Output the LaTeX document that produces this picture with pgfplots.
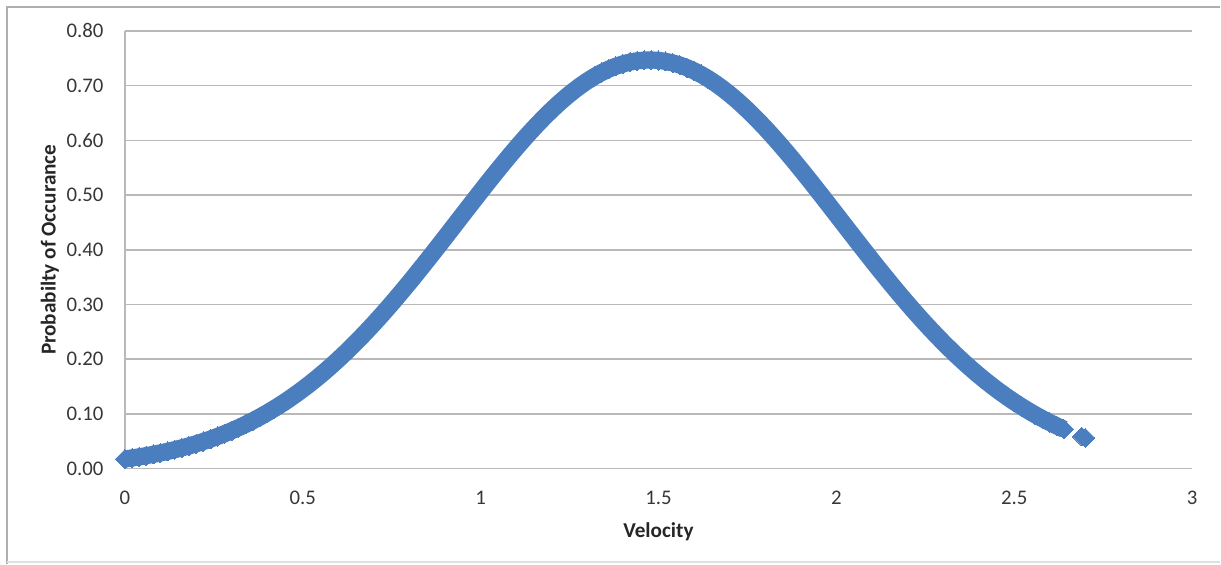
\documentclass[border=0pt]{standalone}
\usepackage{pgfplots}
\pgfplotsset{compat=1.18}
\usepackage{pgfplotstable}
\usepackage{fontspec}
\setmainfont{Carlito}
\definecolor{markblue}{RGB}{74,126,190}
\definecolor{gridgray}{RGB}{185,185,185}
\definecolor{framegray}{RGB}{175,175,175}
\definecolor{ticktext}{RGB}{55,55,55}

\pgfplotstableread{
x y
0.00 0.01755
0.02 0.01942
0.04 0.02145
0.06 0.02366
0.08 0.02607
0.10 0.02868
0.12 0.03152
0.14 0.03458
0.16 0.03789
0.18 0.04146
0.20 0.04530
0.22 0.04943
0.24 0.05386
0.26 0.05861
0.28 0.06369
0.30 0.06911
0.32 0.07489
0.34 0.08104
0.36 0.08758
0.38 0.09452
0.40 0.10186
0.42 0.10962
0.44 0.11782
0.46 0.12645
0.48 0.13552
0.50 0.14505
0.52 0.15503
0.54 0.16547
0.56 0.17637
0.58 0.18773
0.60 0.19954
0.62 0.21181
0.64 0.22452
0.66 0.23766
0.68 0.25123
0.70 0.26520
0.72 0.27957
0.74 0.29431
0.76 0.30940
0.78 0.32482
0.80 0.34053
0.82 0.35651
0.84 0.37273
0.86 0.38915
0.88 0.40572
0.90 0.42243
0.92 0.43921
0.94 0.45604
0.96 0.47285
0.98 0.48961
1.00 0.50626
1.02 0.52276
1.04 0.53905
1.06 0.55509
1.08 0.57081
1.10 0.58617
1.12 0.60112
1.14 0.61559
1.16 0.62954
1.18 0.64292
1.20 0.65568
1.22 0.66778
1.24 0.67915
1.26 0.68978
1.28 0.69960
1.30 0.70858
1.32 0.71669
1.34 0.72390
1.36 0.73016
1.38 0.73547
1.40 0.73979
1.42 0.74311
1.44 0.74543
1.46 0.74671
1.48 0.74697
1.50 0.74620
1.52 0.74440
1.54 0.74158
1.56 0.73775
1.58 0.73293
1.60 0.72715
1.62 0.72041
1.64 0.71275
1.66 0.70420
1.68 0.69479
1.70 0.68456
1.72 0.67356
1.74 0.66182
1.76 0.64938
1.78 0.63630
1.80 0.62263
1.82 0.60841
1.84 0.59370
1.86 0.57854
1.88 0.56299
1.90 0.54711
1.92 0.53094
1.94 0.51454
1.96 0.49795
1.98 0.48124
2.00 0.46445
2.02 0.44762
2.04 0.43081
2.06 0.41407
2.08 0.39742
2.10 0.38091
2.12 0.36459
2.14 0.34849
2.16 0.33264
2.18 0.31707
2.20 0.30182
2.22 0.28690
2.24 0.27234
2.26 0.25817
2.28 0.24439
2.30 0.23104
2.32 0.21811
2.34 0.20562
2.36 0.19358
2.38 0.18199
2.40 0.17086
2.42 0.16019
2.44 0.14998
2.46 0.14023
2.48 0.13093
2.50 0.12208
2.52 0.11367
2.54 0.10569
2.56 0.09814
2.58 0.09100
2.60 0.08426
2.62 0.07792
2.64 0.07195
}\maindata

\pgfplotstableread{
x y
2.69 0.05861
2.70 0.05619
}\taildata

\begin{document}
\begin{tikzpicture}
\path (0,0) rectangle (610.5pt,282pt);
\draw[framegray, line width=0.8pt] (3.5pt,0pt) -- (3.5pt,278.5pt) -- (610.5pt,278.5pt);
\draw[black!12, line width=1pt] (3.5pt,1pt) -- (610.5pt,1pt);
\begin{axis}[
  at={(62.5pt,47.5pt)}, anchor=south west,
  scale only axis, width=534pt, height=219pt,
  xmin=0, xmax=3, ymin=0, ymax=0.8,
  clip=false,
  axis lines=left,
  axis line style={-, draw=gridgray, line width=0.8pt},
  ymajorgrids, grid style={draw=gridgray, line width=0.8pt},
  major tick length=0pt,
  xtick={0,0.5,1,1.5,2,2.5,3},
  xticklabels={0,0.5,1,1.5,2,2.5,3},
  ytick={0,0.1,0.2,0.3,0.4,0.5,0.6,0.7,0.8},
  yticklabel style={/pgf/number format/fixed, /pgf/number format/fixed zerofill, /pgf/number format/precision=2},
  /pgf/number format/assume math mode=true,
  ticklabel style={font=\fontsize{10.4}{12}\selectfont, text=ticktext},
  xticklabel style={anchor=base, inner sep=0pt, yshift=-18pt},
  yticklabel style={anchor=east, inner sep=0pt, xshift=-10.5pt},
  xlabel={Velocity},
  ylabel={Probabilty of Occurance},
  label style={font=\fontsize{10.6}{12}\selectfont\bfseries, text=black!85},
  xlabel style={at={(axis description cs:0.5,-0.145)}, anchor=center},
  ylabel style={at={(axis description cs:-0.0702,0.5)}, anchor=center, rotate=0},
]
\addplot[markblue, line width=8.6pt, line join=round, line cap=butt] table[x=x,y=y] {\maindata};
\addplot[only marks, mark=square*, mark size=3.4pt, mark options={rotate=45, fill=markblue, draw=markblue, line width=0pt}] table[x=x,y=y] {\maindata};
\addplot[only marks, mark=square*, mark size=3.3pt, mark options={rotate=45, fill=markblue, draw=markblue, line width=0pt}] table[x=x,y=y] {\taildata};
\end{axis}
\end{tikzpicture}
\end{document}
